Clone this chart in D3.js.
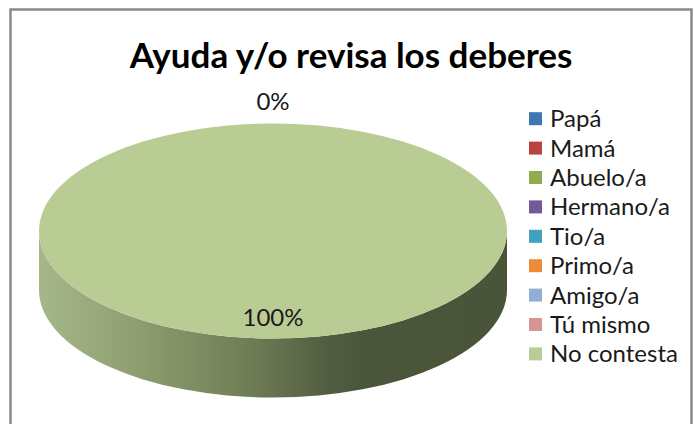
<!DOCTYPE html>
<html lang="es">
<head>
<meta charset="utf-8">
<title>Ayuda y/o revisa los deberes</title>
<script src="https://d3js.org/d3.v7.min.js"></script>
<style>
  body { margin: 0; background: #fff; }
  text { font-family: Lato, "Open Sans", sans-serif; }
</style>
</head>
<body>
<script>
// chart data
var categories = ["Papá", "Mamá", "Abuelo/a", "Hermano/a", "Tio/a", "Primo/a", "Amigo/a", "Tú mismo", "No contesta"];
var values = [0, 0, 0, 0, 0, 0, 0, 0, 100];
var colors = ["#4076b4", "#b8443f", "#8fad4d", "#73599a", "#41a2bd", "#ee8a3a", "#93aed4", "#d69593", "#b9cc94"];
var title = "Ayuda y/o revisa los deberes";

// size setup
var w = 694, h = 424;
var cx = 273, cy = 231;   // centre of the top face
var rx = 234, ry = 107.5; // radii of the top ellipse
var depth = 59;           // thickness of the pie

var svg = d3.select("body").append("svg")
  .attr("width", w)
  .attr("height", h);

// chart frame
svg.append("rect")
  .attr("x", 10.5).attr("y", 9.5)
  .attr("width", 681).attr("height", 440)
  .attr("fill", "#fff")
  .attr("stroke", "#8a8a8a")
  .attr("stroke-width", 2.5);

svg.append("text")
  .attr("x", 351).attr("y", 68)
  .attr("text-anchor", "middle")
  .attr("font-size", 35)
  .attr("font-weight", "bold")
  .attr("fill", "#000")
  .text(title);

// side shading
var defs = svg.append("defs");
var grad = defs.append("linearGradient")
  .attr("id", "sideShade")
  .attr("gradientUnits", "userSpaceOnUse")
  .attr("x1", cx - rx).attr("x2", cx + rx)
  .attr("y1", 0).attr("y2", 0);
[[0, "#a6b78a"], [0.2, "#8f9f71"], [0.45, "#6f7d55"], [0.62, "#525c40"], [0.7, "#4b5539"], [1, "#4a5438"]]
  .forEach(function(s) {
    grad.append("stop").attr("offset", s[0]).attr("stop-color", s[1]);
  });

var total = d3.sum(values);
var pie = d3.pie().sort(null).startAngle(0).endAngle(2 * Math.PI);
var slices = pie(values);

function px(a, r) { return cx + r * Math.sin(a) * rx; }
function py(a, r) { return cy - r * Math.cos(a) * ry; }

// front wall of every slice (only the part facing the viewer)
var walls = svg.append("g");
slices.forEach(function(d, i) {
  var a0 = Math.max(d.startAngle, Math.PI / 2);
  var a1 = Math.min(d.endAngle, 3 * Math.PI / 2);
  if (a1 <= a0) return;
  var large = (a1 - a0) > Math.PI ? 1 : 0;
  var p = "M" + px(a0, 1) + "," + py(a0, 1) +
    "A" + rx + "," + ry + " 0 " + large + " 1 " + px(a1, 1) + "," + py(a1, 1) +
    "L" + px(a1, 1) + "," + (py(a1, 1) + depth) +
    "A" + rx + "," + ry + " 0 " + large + " 0 " + px(a0, 1) + "," + (py(a0, 1) + depth) + "Z";
  walls.append("path")
    .attr("d", p)
    .attr("fill", "url(#sideShade)");
});

// top face
var arc = d3.arc().innerRadius(0).outerRadius(rx);
svg.append("g")
  .attr("transform", "translate(" + cx + "," + cy + ") scale(1," + (ry / rx) + ")")
  .selectAll("path")
  .data(slices.filter(function(d) { return d.value > 0; }))
  .enter()
  .append("path")
  .attr("d", arc)
  .attr("fill", function(d) { return colors[d.index]; });

// data labels (zero slices share one spot, so draw it once)
var seen = {};
var labels = [];
slices.forEach(function(d) {
  var mid = (d.startAngle + d.endAngle) / 2;
  var r = d.value > 0 ? 0.81 : 1.2;
  var key = Math.round(mid * 1000) + "_" + r;
  if (seen[key]) return;
  seen[key] = true;
  labels.push({ x: px(mid, r), y: py(mid, r), t: d3.format(".0%")(d.value / total) });
});
svg.selectAll("text.lbl")
  .data(labels)
  .enter()
  .append("text")
  .attr("class", "lbl")
  .attr("x", function(d) { return d.x; })
  .attr("y", function(d) { return d.y; })
  .attr("dy", "0.35em")
  .attr("text-anchor", "middle")
  .attr("font-size", 24)
  .attr("fill", "#1a1a1a")
  .text(function(d) { return d.t; });

// legend
var legend = svg.append("g")
  .selectAll("g")
  .data(categories)
  .enter()
  .append("g")
  .attr("transform", function(d, i) { return "translate(529," + (118.7 + i * 29.4) + ")"; });

legend.append("rect")
  .attr("x", 0).attr("y", -6.5)
  .attr("width", 13).attr("height", 13)
  .attr("fill", function(d, i) { return colors[i]; });

legend.append("text")
  .attr("x", 21)
  .attr("dy", "0.35em")
  .attr("font-size", 24)
  .attr("fill", "#1a1a1a")
  .text(function(d) { return d; });
</script>
</body>
</html>
